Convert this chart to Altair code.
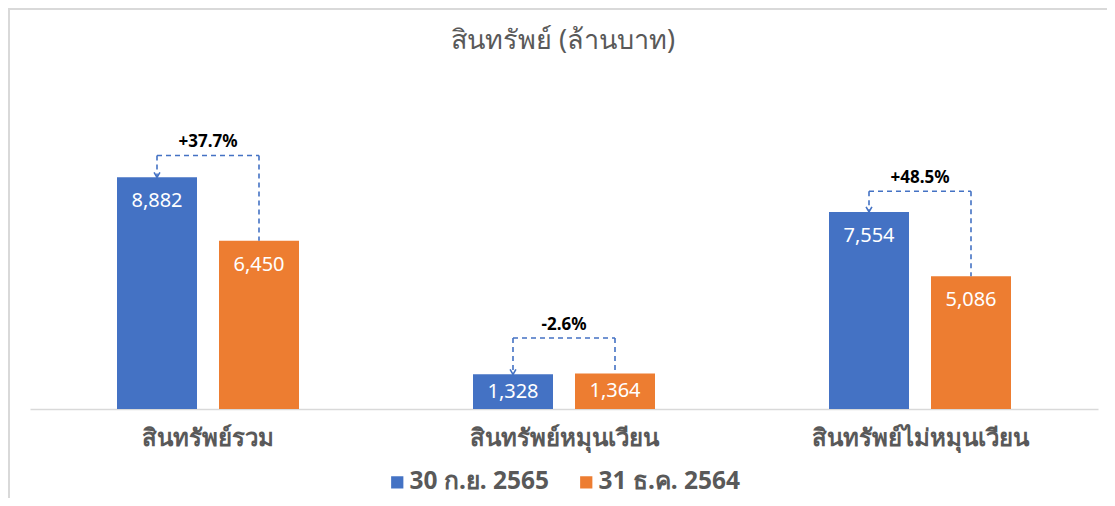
import altair as alt
import pandas as pd

categories = ["สินทรัพย์รวม", "สินทรัพย์หมุนเวียน", "สินทรัพย์ไม่หมุนเวียน"]
series = ["30 ก.ย. 2565", "31 ธ.ค. 2564"]
values_sep65 = [8882, 1328, 7554]
values_dec64 = [6450, 1364, 5086]
changes = ["+37.7%", "-2.6%", "+48.5%"]
bracket_levels = [9720, 2720, 8350]
colors = ["#4472C4", "#ED7D31"]
title_text = "สินทรัพย์ (ล้านบาท)"

W, H = 1068, 313
band = W / len(categories)
bw, gap = 80, 22
step = bw + gap
p_in = gap / step
p_out = (band / step - 2 + p_in) / 2
blue_c = (p_out * step + bw / 2) / band
orange_c = (p_out * step + step + bw / 2) / band

rows = []
for c, a, b in zip(categories, values_sep65, values_dec64):
    rows.append({"cat": c, "series": series[0], "value": a})
    rows.append({"cat": c, "series": series[1], "value": b})
bars_df = pd.DataFrame(rows)

br_df = pd.DataFrame({
    "cat": categories,
    "blue": values_sep65,
    "orange": values_dec64,
    "level": bracket_levels,
    "change": changes,
})

xscale = alt.Scale(domain=categories, paddingInner=0, paddingOuter=0)
yscale = alt.Scale(domain=[0, 12000])
FONT = "Noto Sans"

base = alt.Chart(bars_df)
bars = base.mark_bar().encode(
    x=alt.X("cat:N", scale=xscale, sort=categories,
            axis=alt.Axis(title=None, domainColor="#D9D9D9", domainWidth=1.5, ticks=False,
                          labelAngle=0, labelFontSize=24, labelFontWeight="bold",
                          labelColor="#595959", labelPadding=17, labelFont=FONT,
                          labelLimit=0)),
    xOffset=alt.XOffset("series:N", sort=series,
                        scale=alt.Scale(paddingInner=p_in, paddingOuter=p_out)),
    y=alt.Y("value:Q", scale=yscale, axis=None),
    color=alt.Color("series:N", sort=series,
                    scale=alt.Scale(domain=series, range=colors),
                    legend=alt.Legend(title=None, orient="none", direction="horizontal",
                                      legendX=355, legendY=374, symbolType="square",
                                      symbolSize=150, symbolStrokeWidth=0,
                                      labelFontSize=24.5, labelFontWeight="bold",
                                      labelColor="#595959", labelFont=FONT,
                                      columnPadding=24, labelOffset=0, labelLimit=0)),
)

labels = base.transform_calculate(
    ly="max(datum.value - 920, datum.value / 2)"
).mark_text(color="white", fontSize=20, baseline="middle", font=FONT).encode(
    x=alt.X("cat:N", scale=xscale, sort=categories),
    xOffset=alt.XOffset("series:N", sort=series),
    y=alt.Y("ly:Q", scale=yscale),
    text=alt.Text("value:Q", format=","),
)

bb = alt.Chart(br_df)
dash = dict(color="#4472C4", strokeWidth=1.6, strokeDash=[5, 4])
h_rule = bb.mark_rule(**dash).encode(
    x=alt.X("cat:N", scale=xscale, sort=categories, bandPosition=blue_c),
    x2=alt.X2("cat", bandPosition=orange_c),
    y=alt.Y("level:Q", scale=yscale),
)
v_blue = bb.mark_rule(**dash).encode(
    x=alt.X("cat:N", scale=xscale, sort=categories, bandPosition=blue_c),
    y=alt.Y("level:Q", scale=yscale),
    y2="blue:Q",
)
v_orange = bb.mark_rule(**dash).encode(
    x=alt.X("cat:N", scale=xscale, sort=categories, bandPosition=orange_c),
    y=alt.Y("level:Q", scale=yscale),
    y2="orange:Q",
)
arrow = bb.mark_point(shape="M-0.7,-1.2L0,0L0.7,-1.2", filled=False, size=70,
                      color="#4472C4", strokeWidth=1.6, opacity=1).encode(
    x=alt.X("cat:N", scale=xscale, sort=categories, bandPosition=blue_c),
    y=alt.Y("blue:Q", scale=yscale),
)
pct = bb.mark_text(fontSize=17, fontWeight="bold", color="black", baseline="middle",
                   dy=-13, font=FONT).encode(
    x=alt.X("cat:N", scale=xscale, sort=categories),
    y=alt.Y("level:Q", scale=yscale),
    text="change:N",
)

one = alt.Chart(pd.DataFrame({"t": [title_text]}))
frame = one.mark_rect(filled=False, stroke="#D9D9D9", strokeWidth=2).encode(
    x=alt.value(-21), x2=alt.value(W + 40), y=alt.value(-87), y2=alt.value(H + 120)
)
title = one.mark_text(fontSize=27, color="#595959", font=FONT, baseline="middle",
                      align="center").encode(
    x=alt.value(533), y=alt.value(-55), text="t:N"
)

chart = alt.layer(frame, title, bars, labels, h_rule, v_blue, v_orange, arrow, pct).properties(
    width=W, height=H,
    background="white",
    autosize=alt.AutoSizeParams(type="none"),
    padding={"left": 22, "top": 88, "right": 9, "bottom": 89},
).configure_view(strokeWidth=0, stroke="transparent")

chart.save("out.html", embed_options={"renderer": "svg", "actions": False})
